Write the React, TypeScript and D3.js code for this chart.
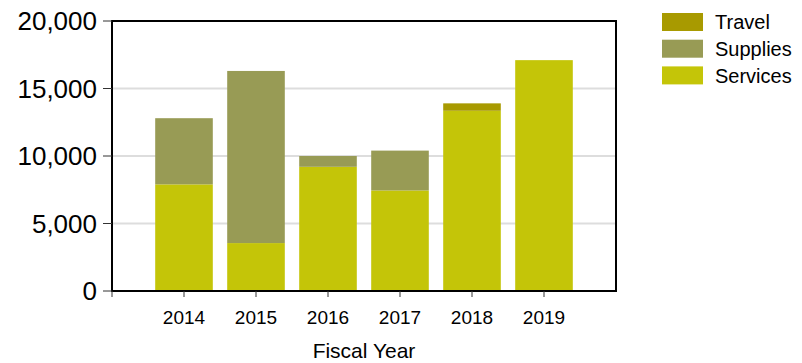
import * as d3 from "d3";
import React from "react";

const years = [2014, 2015, 2016, 2017, 2018, 2019];
const services = [7900, 3550, 9200, 7450, 13350, 17100];
const supplies = [4900, 12750, 800, 2950, 0, 0];
const travel = [0, 0, 0, 0, 550, 0];
const yTicks = [0, 5000, 10000, 15000, 20000];
const seriesNames = ["Services", "Supplies", "Travel"];
const colors: { [k: string]: string } = {
    Services: "#c4c508",
    Supplies: "#989b55",
    Travel: "#a89a00",
};

const width = 802;
const height = 363;
const left = 112;
const right = 616;
const top = 21;
const bottom = 291;
const font = "'Liberation Sans', Arial, sans-serif";

export default function App() {
    const rows = years.map((yr, i) => ({
        year: yr,
        Services: services[i],
        Supplies: supplies[i],
        Travel: travel[i],
    }));
    const stacked = d3.stack<any>().keys(seriesNames)(rows);

    const xScale = d3.scaleLinear().domain([2013, 2020]).range([left, right]);
    const yScale = d3.scaleLinear().domain([0, 20000]).range([bottom, top]);
    const step = xScale(2014) - xScale(2013);
    const barW = step * 0.8;
    const fmt = d3.format(",");
    const xTickVals = [2013, ...years];

    // legend order top to bottom
    const legendOrder = ["Travel", "Supplies", "Services"];

    return (
        <svg width={width} height={height} style={{ position: "absolute", left: 0, top: 0, background: "#fff" }} fontFamily={font}>
            {/* gridlines */}
            {yTicks.slice(1, -1).map(t => (
                <line key={"g" + t} x1={left} x2={right} y1={yScale(t)} y2={yScale(t)} stroke="#dddddd" strokeWidth={2} />
            ))}
            {/* bars */}
            {stacked.map(layer => (
                <g key={layer.key} fill={colors[layer.key]}>
                    {layer.map((d: any, i: number) => {
                        const h = yScale(d[0]) - yScale(d[1]);
                        if (h <= 0) return null;
                        return (
                            <rect key={i} x={xScale(years[i]) - barW / 2} y={yScale(d[1])} width={barW} height={h} />
                        );
                    })}
                </g>
            ))}
            {/* frame */}
            <rect x={left} y={top} width={right - left} height={bottom - top} fill="none" stroke="#000" strokeWidth={2} />
            {/* y axis ticks */}
            {yTicks.map(t => (
                <g key={"y" + t}>
                    <line x1={left - 9} x2={left} y1={yScale(t)} y2={yScale(t)} stroke="#333" strokeWidth={1} />
                    <text x={left - 15} y={yScale(t)} dy="0.36em" textAnchor="end" fontSize={26} fill="#000">{fmt(t)}</text>
                </g>
            ))}
            {/* x axis ticks */}
            {xTickVals.map(v => (
                <line key={"x" + v} x1={xScale(v)} x2={xScale(v)} y1={bottom} y2={bottom + 6} stroke="#333" strokeWidth={1} />
            ))}
            {years.map(v => (
                <text key={"xl" + v} x={xScale(v)} y={324} textAnchor="middle" fontSize={19} fill="#000">{v}</text>
            ))}
            <text x={(left + right) / 2} y={358} textAnchor="middle" fontSize={21} fill="#000">Fiscal Year</text>
            {/* legend */}
            {legendOrder.map((k, i) => (
                <g key={"l" + k} transform={`translate(662,${13 + i * 26.7})`}>
                    <rect width={41} height={18} fill={colors[k]} />
                    <text x={53} y={9} dy="0.36em" fontSize={20} fill="#000">{k}</text>
                </g>
            ))}
        </svg>
    );
}
